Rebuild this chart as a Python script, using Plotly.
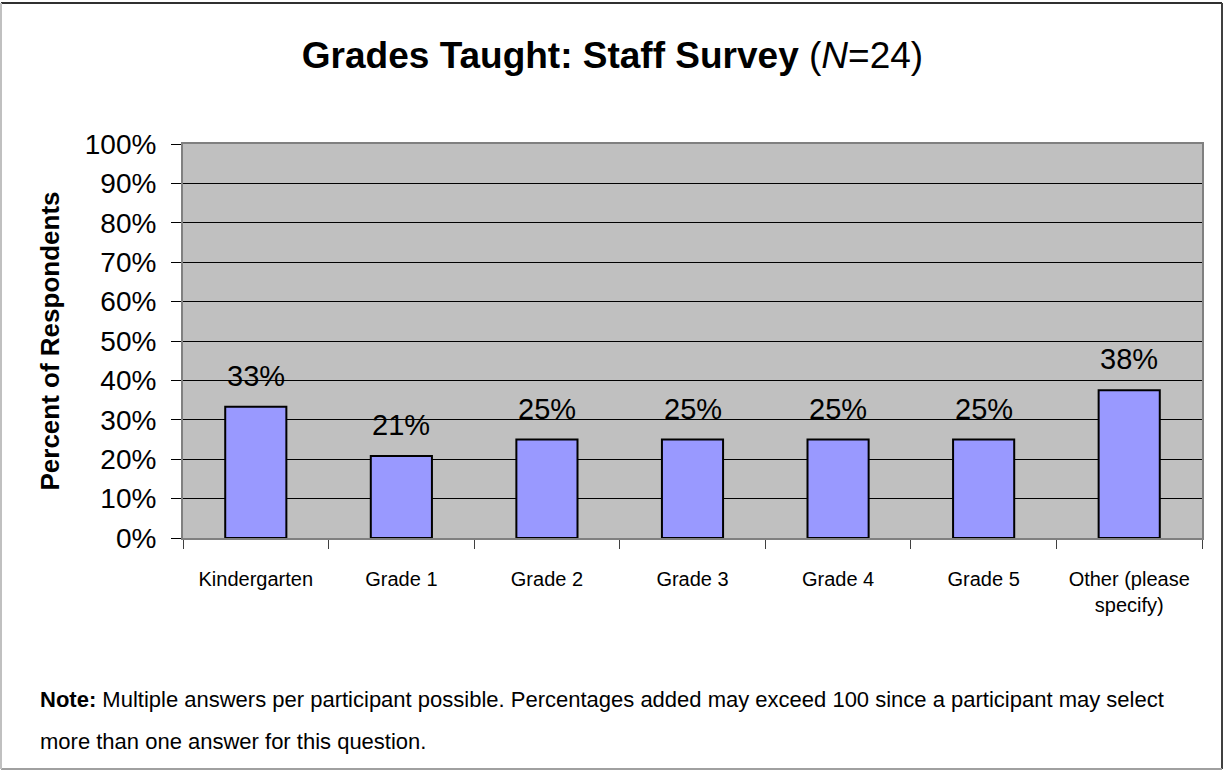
import plotly.graph_objects as go

categories = ['Kindergarten', 'Grade 1', 'Grade 2', 'Grade 3', 'Grade 4', 'Grade 5', 'Other (please<br>specify)']
percents = [0.333, 0.208, 0.25, 0.25, 0.25, 0.25, 0.375]
labels = ['33%', '21%', '25%', '25%', '25%', '25%', '38%']
y_ticks = [0, 0.1, 0.2, 0.3, 0.4, 0.5, 0.6, 0.7, 0.8, 0.9, 1.0]

W, H = 1225, 771
L, R, T, B = 183, 23, 144, 233
pw, ph = W - L - R, H - T - B


# pixel -> paper helpers for the page frame and the note
def px(x):
    return (x - L) / pw


def py(y):
    return (H - B - y) / ph


font = 'Liberation Sans, Arial, sans-serif'

fig = go.Figure()
fig.add_trace(go.Bar(x=categories, y=percents, width=0.42,
                     marker=dict(color='#9999FF', line=dict(color='black', width=2)),
                     hoverinfo='skip'))

# value labels above bars
for c, v, t in zip(categories, percents, labels):
    fig.add_annotation(x=c, y=v, text=t, showarrow=False, yanchor='middle', yshift=31,
                       font=dict(size=29, color='black', family=font))

# note under chart
fig.add_annotation(xref='paper', yref='paper', x=px(38), y=py(699), xanchor='left', yanchor='middle',
                   text='<b>Note:</b> Multiple answers per participant possible. Percentages added may exceed 100 since a participant may select',
                   showarrow=False, font=dict(size=22, color='black', family=font))
fig.add_annotation(xref='paper', yref='paper', x=px(38), y=py(741), xanchor='left', yanchor='middle',
                   text='more than one answer for this question.',
                   showarrow=False, font=dict(size=22, color='black', family=font))

# outer frame
fig.add_shape(type='line', xref='paper', yref='paper', x0=px(1), x1=px(1222), y0=py(3), y1=py(3),
              line=dict(color='#303030', width=2))
fig.add_shape(type='line', xref='paper', yref='paper', x0=px(1222), x1=px(1222), y0=py(3), y1=py(769),
              line=dict(color='#404040', width=2))
fig.add_shape(type='line', xref='paper', yref='paper', x0=px(1), x1=px(1222), y0=py(769), y1=py(769),
              line=dict(color='#A0A0A0', width=2))
fig.add_shape(type='line', xref='paper', yref='paper', x0=px(1), x1=px(1), y0=py(3), y1=py(769),
              line=dict(color='#C0C0C0', width=2))

fig.update_layout(
    width=W, height=H,
    margin=dict(l=L, r=R, t=T, b=B),
    paper_bgcolor='white', plot_bgcolor='#C0C0C0',
    showlegend=False,
    font=dict(family=font, color='black'),
    title=dict(text='<b>Grades Taught: Staff Survey</b> (<i>N</i>=24)', x=0.5, xanchor='center',
               xref='container', yref='container', y=1 - 55 / H, yanchor='middle',
               font=dict(size=37, color='black', family=font)),
)
fig.update_yaxes(range=[0, 1], tickvals=y_ticks, tickformat='.0%',
                 showgrid=True, gridcolor='black', gridwidth=1,
                 ticks='outside', ticklen=10, tickcolor='black',
                 showline=True, linecolor='#808080', linewidth=2, mirror=True,
                 tickfont=dict(size=28), ticklabelstandoff=9, zeroline=False,
                 title=dict(text='<b>Percent of Respondents</b>', font=dict(size=26), standoff=18))
fig.update_xaxes(tickson='boundaries', ticks='outside', ticklen=9, tickcolor='#404040',
                 showline=True, linecolor='#808080', linewidth=2, mirror=True,
                 tickfont=dict(size=20), ticklabelstandoff=22)

# drop the default page margin so the figure sits at the window's corner
fig.write_html('out.html', config={'displayModeBar': False},
               post_script="document.body.style.margin='0px';")
